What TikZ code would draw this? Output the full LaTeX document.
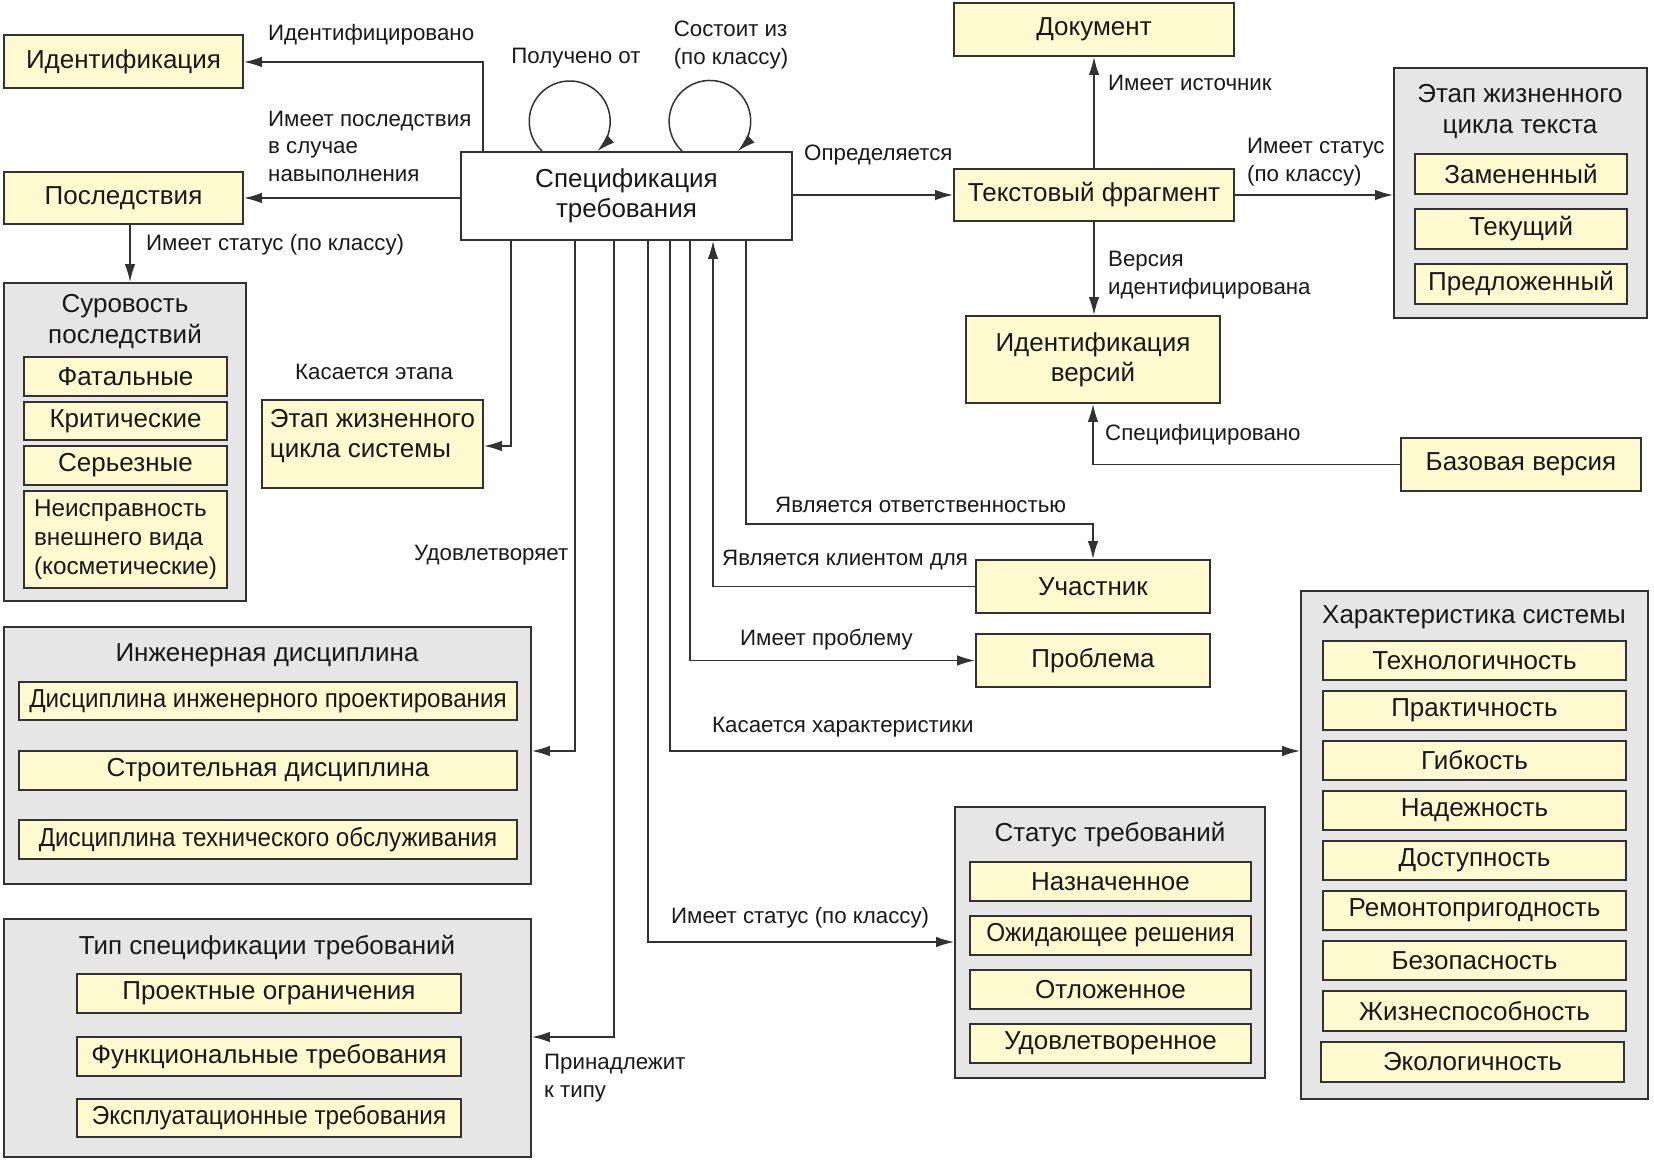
\documentclass[tikz,border=0pt]{standalone}
\usepackage{fontspec}
\usepackage{graphicx}
\setmainfont{Liberation Sans}
\usetikzlibrary{arrows.meta,calc}
\definecolor{yfill}{RGB}{255,250,208}
\definecolor{gfill}{RGB}{230,230,230}
\definecolor{bord}{RGB}{50,50,50}
\definecolor{txt}{RGB}{25,25,25}
\newcommand{\mkbox}[6]{\node[#1, minimum width={#4-#2}, minimum height={#5-#3}] (#6) at ({(#2+#4)/2},{(#3+#5)/2})}
\newcommand{\narrow}[2]{\scalebox{#1}[1]{#2}}
\tikzset{
 box/.style={draw=bord, line width=1.8pt, inner sep=0pt, font=\fontsize{26}{30}\selectfont, align=center, text=txt},
 ybox/.style={box, fill=yfill},
 gbox/.style={box, fill=gfill},
 wbox/.style={box, fill=white},
 ttl/.style={inner sep=0pt, font=\fontsize{26}{31}\selectfont, align=center, text=txt},
 lbl/.style={font=\fontsize{22.3}{27.5}\selectfont, anchor=west, align=left, inner sep=0pt, text=txt},
 arr/.style={draw=bord, line width=1.5pt, -{Latex[length=18pt,width=10.5pt]}},
}
\begin{document}
\begin{tikzpicture}[x=1pt,y=-1pt]
\useasboundingbox (0,0) rectangle (1654,1161);

% ---- main boxes
\mkbox{ybox}{4}{35}{243}{88}{ident} {Идентификация};
\mkbox{ybox}{4}{172}{243}{224}{conseq} {Последствия};
\mkbox{wbox}{461}{152}{792}{240}{spec} {Спецификация\\требования};
\mkbox{ybox}{954}{3}{1234}{56}{docu} {Документ};
\mkbox{ybox}{954}{169}{1234}{221}{textfrag} {Текстовый фрагмент};
\mkbox{ybox}{966}{316}{1220}{403}{verid} {Идентификация\\версий};
\mkbox{ybox}{1401}{438}{1641}{491}{base} {Базовая версия};
\mkbox{ybox}{262}{400}{483}{488}{stagesys} {\raisebox{1.5pt}[0pt][0pt]{\begin{tabular}{@{}l@{}}Этап жизненного\\цикла системы\end{tabular}}};
\mkbox{ybox}{976}{560}{1210}{613}{part} {Участник};
\mkbox{ybox}{976}{634}{1210}{687}{prob} {Проблема};

% ---- Суровость последствий
\mkbox{gbox}{4}{283}{246}{601}{sever} {};
\node[ttl] (severT) at (125,322) {Суровость\\последствий};
\mkbox{ybox}{24}{357}{227}{396}{sv1} {Фатальные};
\mkbox{ybox}{24}{402}{227}{440}{sv2} {Критические};
\mkbox{ybox}{24}{446}{227}{485}{sv3} {Серьезные};
\mkbox{ybox,align=left,font=\fontsize{24.3}{29}\selectfont}{24}{491}{227}{588}{sv4} {Неисправность\\внешнего вида\\(косметические)};

% ---- Этап жизненного цикла текста
\mkbox{gbox}{1394}{68}{1647}{318}{lct} {};
\node[ttl] (lctT) at (1520,112) {Этап жизненного\\цикла текста};
\mkbox{ybox}{1415}{154}{1627}{194}{lc1} {Замененный};
\mkbox{ybox}{1415}{209}{1627}{249}{lc2} {Текущий};
\mkbox{ybox}{1415}{264}{1627}{304}{lc3} {Предложенный};

% ---- Инженерная дисциплина
\mkbox{gbox}{4}{627}{531}{884}{eng} {};
\node[ttl] (engT) at (267,655) {Инженерная дисциплина};
\mkbox{ybox}{19}{682}{517}{720}{en1} {\narrow{0.93}{Дисциплина инженерного проектирования}};
\mkbox{ybox}{19}{751}{517}{790}{en2} {Строительная дисциплина};
\mkbox{ybox}{19}{820}{517}{859}{en3} {\narrow{0.93}{Дисциплина технического обслуживания}};

% ---- Тип спецификации требований
\mkbox{gbox}{4}{919}{531}{1157}{typ} {};
\node[ttl] (typT) at (267,948) {Тип спецификации требований};
\mkbox{ybox}{77}{974}{461}{1013}{ty1} {Проектные ограничения};
\mkbox{ybox}{77}{1037}{461}{1076}{ty2} {Функциональные требования};
\mkbox{ybox}{77}{1099}{461}{1137}{ty3} {\narrow{0.935}{Эксплуатационные требования}};

% ---- Статус требований
\mkbox{gbox}{955}{807}{1265}{1078}{stat} {};
\node[ttl] (statT) at (1110,835) {Статус требований};
\mkbox{ybox}{970}{862}{1251}{901}{st1} {Назначенное};
\mkbox{ybox}{970}{916}{1251}{955}{st2} {\narrow{0.935}{Ожидающее решения}};
\mkbox{ybox}{970}{970}{1251}{1009}{st3} {Отложенное};
\mkbox{ybox}{970}{1024}{1251}{1063}{st4} {Удовлетворенное};

% ---- Характеристика системы
\mkbox{gbox}{1301}{591}{1648}{1099}{chr} {};
\node[ttl] (chrT) at (1474,617) {Характеристика системы};
\mkbox{ybox}{1323}{641}{1626}{680}{ch1} {Технологичность};
\mkbox{ybox}{1323}{691}{1626}{730}{ch2} {Практичность};
\mkbox{ybox}{1323}{741}{1626}{780}{ch3} {Гибкость};
\mkbox{ybox}{1323}{791}{1626}{830}{ch4} {Надежность};
\mkbox{ybox}{1323}{841}{1626}{880}{ch5} {Доступность};
\mkbox{ybox}{1323}{891}{1626}{930}{ch6} {Ремонтопригодность};
\mkbox{ybox}{1323}{941}{1626}{980}{ch7} {Безопасность};
\mkbox{ybox}{1323}{991}{1626}{1031}{ch8} {Жизнеспособность};
\mkbox{ybox}{1321}{1042}{1624}{1082}{ch9} {Экологичность};

% ---- bend coordinates
\coordinate (bId) at (483,62);
\coordinate (bSt) at (511,446);
\coordinate (bEn) at (575,751);
\coordinate (bTy) at (614,1037);
\coordinate (bSs) at (648,942);
\coordinate (bCh) at (670,751);
\coordinate (bPr) at (690,660);
\coordinate (bCl) at (713,586);
\coordinate (bRe) at (746,524);
\coordinate (bSv) at (130,224);

% ---- connectors
\draw[arr] (spec.north -| bId) |- (ident.east |- bId);
\draw[arr] (spec.west |- conseq.east) -- (conseq.east);
\draw[arr] (conseq.south -| bSv) -- (sever.north -| bSv);
\draw[arr] ($(spec.north west)+(82,0)$) arc[start angle=133, end angle=407, radius=40.5];
\draw[arr] ($(spec.north west)+(222,0)$) arc[start angle=133, end angle=407, radius=40.8];
\draw[arr] (spec.east |- textfrag.west) -- (textfrag.west);
\draw[arr] (textfrag.north) -- (docu.south);
\draw[arr] (textfrag.east) -- (textfrag.east -| lct.west);
\draw[arr] (textfrag.south) -- (textfrag.south |- verid.north);
\draw[arr] (base.west) -| (verid.south);
\draw[arr] (spec.south -| bSt) |- (stagesys.east |- bSt);
\draw[arr] (spec.south -| bEn) |- (eng.east |- bEn);
\draw[arr] (spec.south -| bTy) |- (typ.east |- bTy);
\draw[arr] (spec.south -| bSs) |- (stat.west |- bSs);
\draw[arr] (spec.south -| bCh) |- (chr.west |- bCh);
\draw[arr] (spec.south -| bPr) |- (prob.west);
\draw[arr] (part.west) -| (spec.south -| bCl);
\draw[arr] (spec.south -| bRe) -- (bRe) -| (part.north);

% ---- labels
\node[lbl] (l1) at (268,35) {Идентифицировано};
\node[lbl] (l2) at (268,146) {Имеет последствия\\в случае\\навыполнения};
\node[lbl] (l3) at (146,245) {Имеет статус (по классу)};
\node[lbl,anchor=center] (l4) at (576,58) {Получено от};
\node[lbl,anchor=center] (l5) at (731,45) {Состоит из\\(по классу)};
\node[lbl] (l6) at (804,155) {Определяется};
\node[lbl] (l7) at (1108,83) {Имеет источник};
\node[lbl] (l8) at (1247,162) {Имеет статус\\(по классу)};
\node[lbl] (l9) at (1108,275) {Версия\\идентифицирована};
\node[lbl] (l10) at (1105,435) {Специфицировано};
\node[lbl] (l11) at (295,372) {Касается этапа};
\node[lbl] (l12) at (414,555) {Удовлетворяет};
\node[lbl] (l13) at (775,505) {Является ответственностью};
\node[lbl] (l14) at (722,560) {Является клиентом для};
\node[lbl] (l15) at (740,640) {Имеет проблему};
\node[lbl] (l16) at (712,727) {Касается характеристики};
\node[lbl] (l17) at (671,918) {Имеет статус (по классу)};
\node[lbl] (l18) at (544,1078) {Принадлежит\\к типу};
\end{tikzpicture}
\end{document}
